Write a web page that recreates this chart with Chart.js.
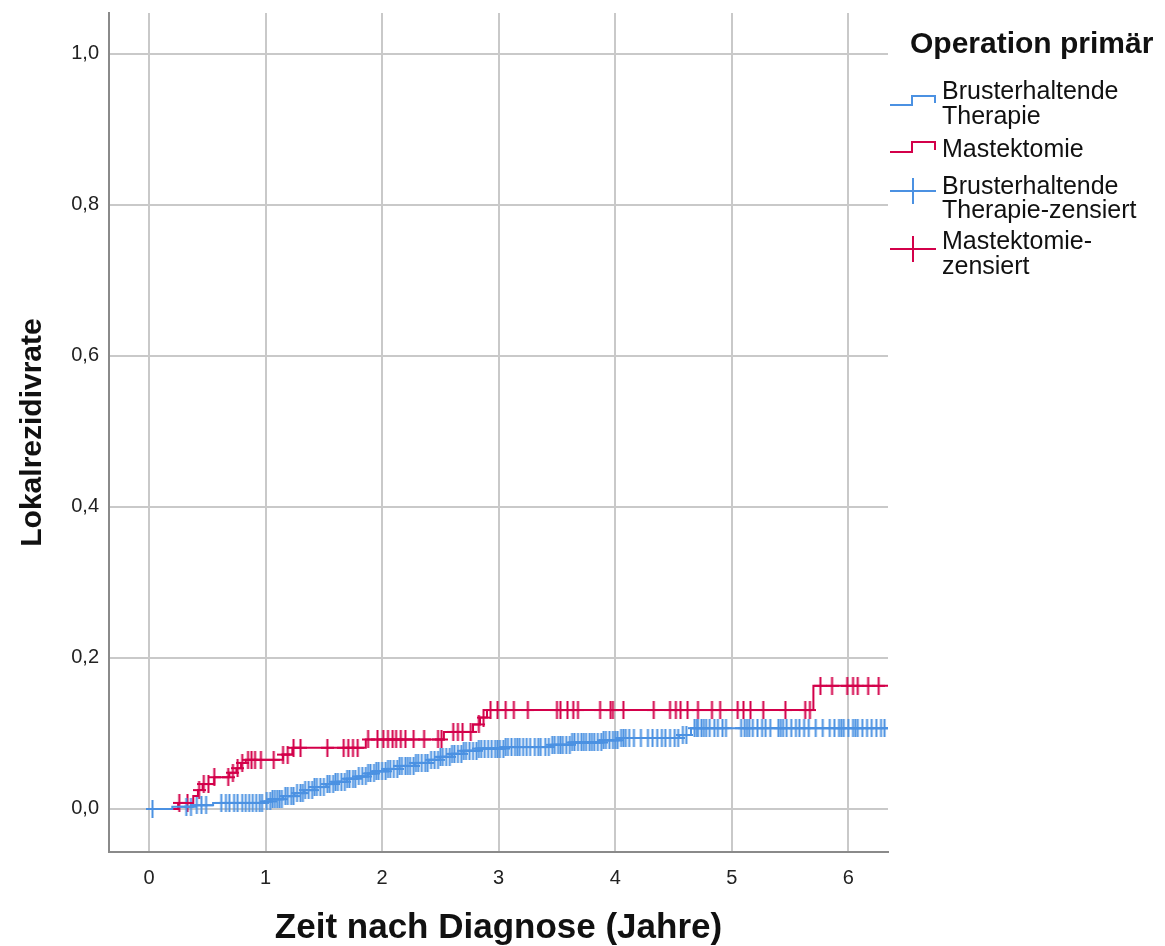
<!DOCTYPE html>
<html lang="de">
<head>
<meta charset="utf-8">
<title>Lokalrezidivrate nach Operation</title>
<script src="https://cdn.jsdelivr.net/npm/chart.js@4.4.1/dist/chart.umd.min.js"></script>
<style>
  html, body { margin: 0; padding: 0; background: #fff; }
  #wrap { position: relative; width: 1165px; height: 946px; }
</style>
</head>
<body>
<div id="wrap"><canvas id="km"></canvas></div>
<script>
// Achsen
const xTickValues = [0, 1, 2, 3, 4, 5, 6];
const yTickValues = [0, 0.2, 0.4, 0.6, 0.8, 1.0];
const yTickLabels = ['0,0', '0,2', '0,4', '0,6', '0,8', '1,0'];

// Brusterhaltende Therapie: Ereigniszeitpunkte (Jahre) und kumulative Rate danach
const btTimes = [0, 0.20, 0.38, 0.55, 0.98, 1.05, 1.15, 1.25, 1.33, 1.42, 1.52, 1.60, 1.70, 1.78, 1.88,
  1.95, 2.05, 2.15, 2.28, 2.40, 2.50, 2.60, 2.70, 2.82, 3.05, 3.45, 3.62, 3.90, 4.05, 4.55, 4.65, 6.34];
const btRates = [0, 0.003, 0.005, 0.008, 0.010, 0.013, 0.017, 0.021, 0.025, 0.029, 0.033, 0.036, 0.040, 0.043, 0.047,
  0.050, 0.053, 0.057, 0.061, 0.065, 0.069, 0.073, 0.077, 0.080, 0.082, 0.085, 0.088, 0.091, 0.094, 0.098, 0.107, 0.107];

// Mastektomie
const mxTimes = [0, 0.25, 0.38, 0.42, 0.46, 0.56, 0.69, 0.75, 0.79, 0.83, 1.15, 1.23, 1.86, 2.53, 2.78, 2.84, 2.90, 5.70, 6.34];
const mxRates = [0, 0.008, 0.017, 0.025, 0.033, 0.042, 0.048, 0.054, 0.061, 0.065, 0.072, 0.081, 0.092, 0.102, 0.112, 0.121, 0.131, 0.163, 0.163];

// zensierte Fälle (Jahre)
const btCensored = [0.03, 0.32, 0.36, 0.41, 0.45, 0.49, 0.62, 0.66, 0.69, 0.73, 0.76, 0.80, 0.83, 0.86, 0.89, 0.92,
  0.95, 0.97, 1.01, 1.04, 1.06, 1.08, 1.10, 1.12, 1.14, 1.17, 1.19, 1.22, 1.24, 1.27, 1.30, 1.32, 1.34, 1.37, 1.40,
  1.42, 1.44, 1.47, 1.50, 1.53, 1.55, 1.58, 1.60, 1.62, 1.65, 1.68, 1.70, 1.72, 1.75, 1.77, 1.80, 1.83, 1.86, 1.88,
  1.90, 1.93, 1.95, 1.97, 2.00, 2.03, 2.05, 2.07, 2.10, 2.13, 2.15, 2.17, 2.20, 2.22, 2.24, 2.27, 2.29, 2.31, 2.34,
  2.37, 2.39, 2.42, 2.45, 2.48, 2.50, 2.52, 2.55, 2.58, 2.60, 2.62, 2.65, 2.68, 2.70, 2.72, 2.75, 2.78, 2.81, 2.83,
  2.85, 2.88, 2.91, 2.94, 2.97, 2.99, 3.01, 3.04, 3.06, 3.08, 3.11, 3.14, 3.16, 3.18, 3.21, 3.24, 3.27, 3.31, 3.34,
  3.36, 3.40, 3.43, 3.46, 3.48, 3.51, 3.53, 3.55, 3.58, 3.61, 3.63, 3.65, 3.68, 3.71, 3.73, 3.75, 3.78, 3.80, 3.82,
  3.85, 3.88, 3.90, 3.92, 3.95, 3.98, 4.00, 4.02, 4.05, 4.07, 4.09, 4.12, 4.16, 4.22, 4.28, 4.32, 4.36, 4.40, 4.43,
  4.47, 4.51, 4.54, 4.58, 4.61, 4.68, 4.70, 4.71, 4.74, 4.76, 4.78, 4.81, 4.85, 4.88, 4.92, 4.95, 5.08, 5.11, 5.13,
  5.15, 5.18, 5.22, 5.26, 5.29, 5.33, 5.40, 5.42, 5.44, 5.47, 5.51, 5.55, 5.58, 5.62, 5.66, 5.72, 5.78, 5.84, 5.88,
  5.92, 5.94, 5.96, 6.00, 6.04, 6.06, 6.08, 6.12, 6.16, 6.20, 6.24, 6.28, 6.31];
const mxCensored = [0.26, 0.33, 0.43, 0.47, 0.51, 0.56, 0.68, 0.72, 0.76, 0.80, 0.85, 0.88, 0.91, 0.96, 1.07, 1.15,
  1.19, 1.24, 1.30, 1.53, 1.67, 1.71, 1.75, 1.79, 1.88, 1.96, 2.01, 2.05, 2.09, 2.12, 2.16, 2.20, 2.27, 2.36, 2.48,
  2.51, 2.61, 2.65, 2.69, 2.76, 2.83, 2.87, 2.93, 2.99, 3.06, 3.13, 3.25, 3.50, 3.53, 3.59, 3.64, 3.68, 3.87, 3.96,
  3.98, 4.07, 4.33, 4.47, 4.52, 4.56, 4.62, 4.71, 4.83, 4.90, 5.05, 5.10, 5.16, 5.27, 5.46, 5.63, 5.67, 5.76, 5.86,
  5.99, 6.04, 6.08, 6.17, 6.26];

const legendTitle = 'Operation primär';
const legendLabels = [
  ['Brusterhaltende', 'Therapie'],
  ['Mastektomie'],
  ['Brusterhaltende', 'Therapie-zensiert'],
  ['Mastektomie-', 'zensiert']
];

const BLUE = '#4b91e2';
const RED = '#d3004a';
const FONT = '"Liberation Sans", Arial, sans-serif';

// value of the step curve at time t
function rateAt(times, rates, t) {
  let v = 0;
  for (let i = 0; i < times.length; i++) {
    if (times[i] <= t) v = rates[i];
  }
  return v;
}

function plusMark(color) {
  const c = document.createElement('canvas');
  c.width = 13;
  c.height = 18;
  const g = c.getContext('2d');
  g.strokeStyle = color;
  g.lineWidth = 2;
  g.beginPath();
  g.moveTo(6.5, 0);
  g.lineTo(6.5, 18);
  g.moveTo(0, 9);
  g.lineTo(13, 9);
  g.stroke();
  return c;
}

const sideLegend = {
  id: 'sideLegend',
  afterDraw(chart) {
    const ctx = chart.ctx;
    ctx.save();
    ctx.fillStyle = '#111';
    ctx.textBaseline = 'middle';
    ctx.font = 'bold 30px ' + FONT;
    ctx.fillText(legendTitle, 910, 45);

    ctx.font = '25px ' + FONT;
    const textX = 942;
    const lineY = [[92, 117], [150], [187, 211], [242, 267]];
    legendLabels.forEach((lines, i) => {
      lines.forEach((s, j) => ctx.fillText(s, textX, lineY[i][j]));
    });

    ctx.lineWidth = 2;
    // step symbols
    [[BLUE, 105, 96], [RED, 152, 142]].forEach(([col, lo, hi]) => {
      ctx.strokeStyle = col;
      ctx.beginPath();
      ctx.moveTo(890, lo);
      ctx.lineTo(912, lo);
      ctx.lineTo(912, hi);
      ctx.lineTo(935, hi);
      ctx.lineTo(935, lo - 2);
      ctx.stroke();
    });
    // censor symbols
    [[BLUE, 191], [RED, 249]].forEach(([col, y]) => {
      ctx.strokeStyle = col;
      ctx.beginPath();
      ctx.moveTo(890, y);
      ctx.lineTo(936, y);
      ctx.moveTo(913, y - 13);
      ctx.lineTo(913, y + 13);
      ctx.stroke();
    });
    ctx.restore();
  }
};

const stepData = (times, rates) => times.map((t, i) => ({ x: t, y: rates[i] }));
const censorData = (cens, times, rates) => cens.map(t => ({ x: t, y: rateAt(times, rates, t) }));

new Chart(document.getElementById('km'), {
  type: 'scatter',
  data: {
    datasets: [
      {
        label: 'Brusterhaltende Therapie',
        data: stepData(btTimes, btRates),
        showLine: true,
        stepped: true,
        borderColor: BLUE,
        borderWidth: 2,
        pointRadius: 0
      },
      {
        label: 'Mastektomie',
        data: stepData(mxTimes, mxRates),
        showLine: true,
        stepped: true,
        borderColor: RED,
        borderWidth: 2,
        pointRadius: 0
      },
      {
        label: 'Brusterhaltende Therapie-zensiert',
        data: censorData(btCensored, btTimes, btRates),
        pointStyle: plusMark(BLUE),
        pointRadius: 6,
        pointHoverRadius: 6
      },
      {
        label: 'Mastektomie-zensiert',
        data: censorData(mxCensored, mxTimes, mxRates),
        pointStyle: plusMark(RED),
        pointRadius: 6,
        pointHoverRadius: 6
      }
    ]
  },
  options: {
    responsive: true,
    maintainAspectRatio: false,
    animation: false,
    layout: { padding: { top: 13, right: 277, left: 0, bottom: 0 } },
    plugins: {
      legend: { display: false },
      tooltip: { enabled: false }
    },
    scales: {
      x: {
        type: 'linear',
        min: -0.343,
        max: 6.34,
        afterFit: s => { s.height = 94; s.paddingLeft = 0; s.paddingRight = 0; },
        afterBuildTicks: s => { s.ticks = xTickValues.map(v => ({ value: v })); },
        grid: { color: '#c9c9c9', lineWidth: 2, drawTicks: false },
        border: { color: '#8a8a8a', width: 2 },
        ticks: {
          padding: 14,
          color: '#222',
          font: { family: FONT, size: 20 },
          callback: v => String(v)
        },
        title: {
          display: true,
          text: 'Zeit nach Diagnose (Jahre)',
          color: '#111',
          font: { family: FONT, size: 35, weight: 'bold' },
          padding: { top: 0, bottom: -3 }
        }
      },
      y: {
        type: 'linear',
        min: -0.057,
        max: 1.054,
        afterFit: s => { s.width = 109; s.paddingTop = 0; s.paddingBottom = 0; },
        afterBuildTicks: s => { s.ticks = yTickValues.map(v => ({ value: v })); },
        grid: { color: '#c9c9c9', lineWidth: 2, drawTicks: false },
        border: { color: '#8a8a8a', width: 2 },
        ticks: {
          padding: 10,
          color: '#222',
          font: { family: FONT, size: 20 },
          callback: v => yTickLabels[yTickValues.indexOf(Math.round(v * 10) / 10)]
        },
        title: {
          display: true,
          text: 'Lokalrezidivrate',
          color: '#111',
          font: { family: FONT, size: 30, weight: 'bold' },
          padding: { top: 15, bottom: 0 }
        }
      }
    }
  },
  plugins: [sideLegend]
});
</script>
</body>
</html>
